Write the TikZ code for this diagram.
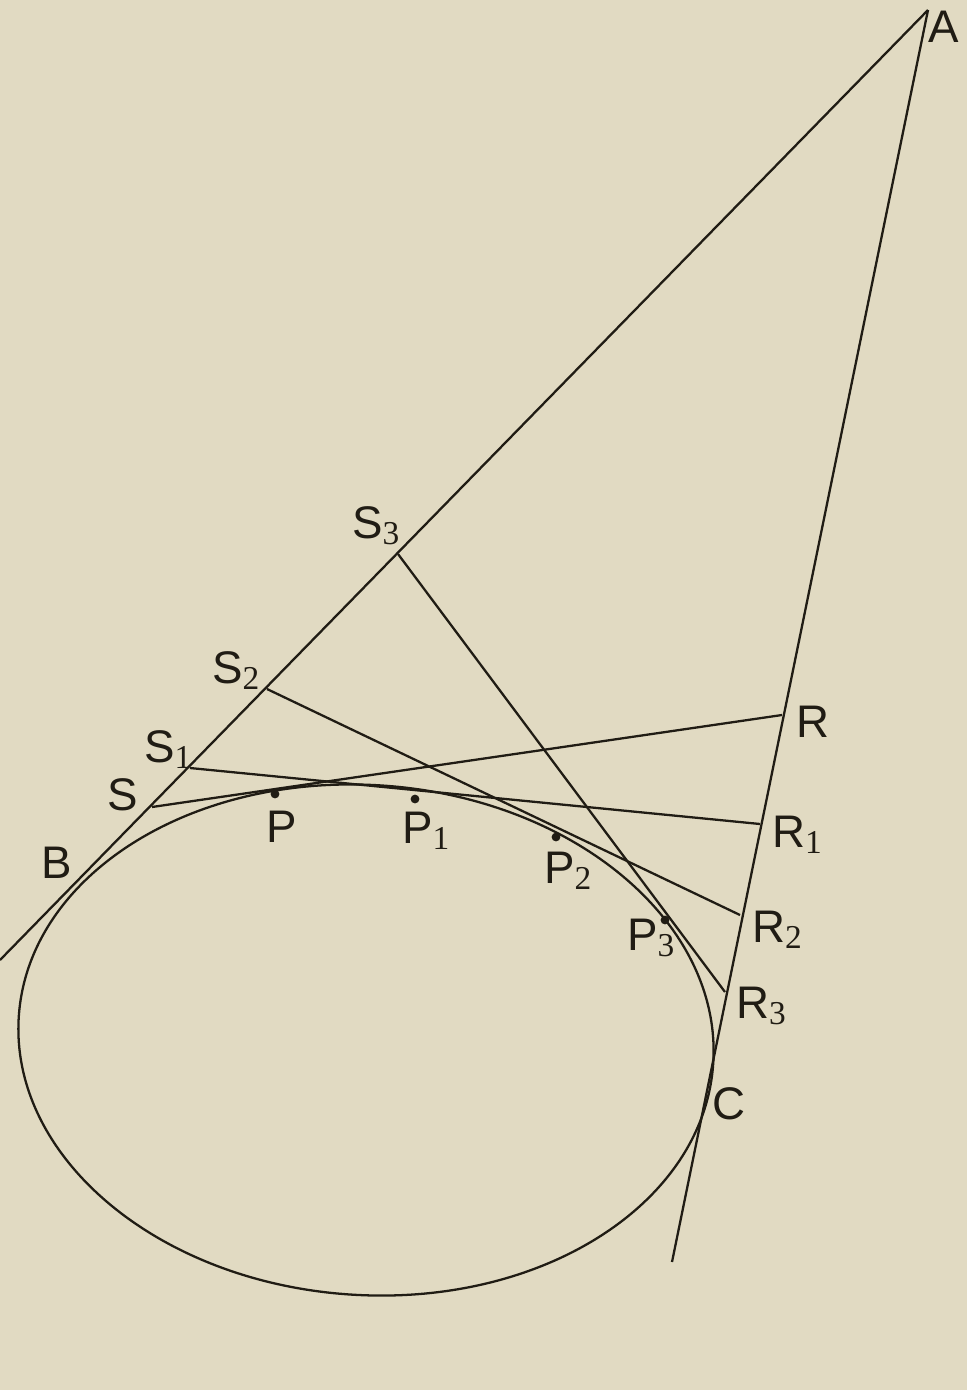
\documentclass[tikz,border=0pt]{standalone}
\usepackage{fontspec}
\setmainfont{Liberation Sans}
\newfontfamily\digitfont{Liberation Serif}
\usetikzlibrary{positioning}

\definecolor{paper}{RGB}{225,218,194}
\definecolor{ink}{RGB}{32,28,20}

% subscript digit of a label
\newcommand{\idx}[1]{{\digitfont\fontsize{19}{19}\selectfont\raisebox{-0.2em}{#1}}}

\begin{document}
\begin{tikzpicture}[x=0.02cm, y=-0.02cm, line width=1.3pt,
    lbl/.style={text=ink, font=\fontsize{26}{26}\selectfont, inner sep=0pt, anchor=base west},
    dot/.style={circle, fill=ink, inner sep=0pt, minimum size=5pt}]
        \fill [paper] (0,0) rectangle (967,1390);
        \useasboundingbox (0,0) rectangle (967,1390);

        % the two tangents from A
        \coordinate (A) at (928,10);
        \coordinate (Bend) at (0,960);
        \coordinate (Cend) at (672,1262);
        \coordinate (S3) at (398,554);
        \coordinate (S2) at (267,689);
        \coordinate (S1) at (190,768);
        \coordinate (S) at (152,807);
        \coordinate (R) at (782,715);
        \coordinate (R1) at (760,824);
        \coordinate (R2) at (740,915);
        \coordinate (R3) at (725,992);

        % the conic
        \draw [ink, rotate around={-4:(366,1040)}] (366,1040) ellipse [x radius=348, y radius=255];

        \draw [ink] (A) -- (Bend);
        \draw [ink] (A) -- (Cend);
        \draw [ink] (S) -- (R);
        \draw [ink] (S1) -- (R1);
        \draw [ink] (S2) -- (R2);
        \draw [ink] (S3) -- (R3);

        % points P
        \node [dot] (p) at (275,794) {};
        \node [dot] (p1) at (415,799) {};
        \node [dot] (p2) at (556,837) {};
        \node [dot] (p3) at (665,920) {};

        % labels
        \node [lbl, anchor=base east] (la) at (960,42) {A};
        \node [lbl] (lb) at (40,878) {B};
        \node [lbl] (lc) at (711,1119) {C};
        \node [lbl] (ls) at (106,810) {S};
        \node [lbl] (ls1) at (143,762) {S\idx{1}};
        \node [lbl] (ls2) at (211,683) {S\idx{2}};
        \node [lbl] (ls3) at (351,538) {S\idx{3}};
        \node [lbl] (lr) at (795,737) {R};
        \node [lbl] (lr1) at (771,847) {R\idx{1}};
        \node [lbl] (lr2) at (751,942) {R\idx{2}};
        \node [lbl] (lr3) at (735,1018) {R\idx{3}};
        \node [lbl] (lp) at (265,842) {P};
        \node [lbl] (lp1) at (401,843) {P\idx{1}};
        \node [lbl] (lp2) at (543,883) {P\idx{2}};
        \node [lbl] (lp3) at (626,950) {P\idx{3}};
\end{tikzpicture}
\end{document}
